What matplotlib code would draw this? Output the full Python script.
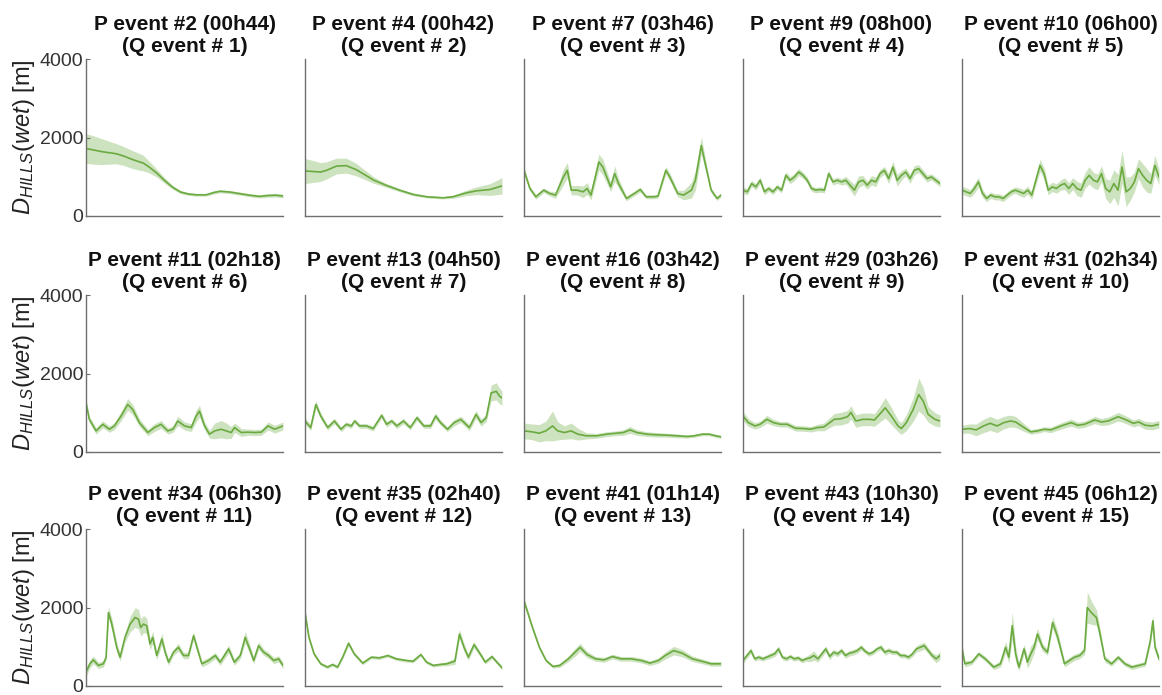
import numpy as np
import matplotlib
matplotlib.use("Agg")
import matplotlib.pyplot as plt

plt.rcParams['font.family'] = ['Liberation Sans', 'DejaVu Sans']
plt.rcParams['mathtext.fontset'] = 'custom'
plt.rcParams['mathtext.rm'] = 'Liberation Sans'
plt.rcParams['mathtext.it'] = 'Liberation Sans:italic'
plt.rcParams['mathtext.bf'] = 'Liberation Sans:bold'

# Event identifiers
p_events = [2, 4, 7, 9, 10, 11, 13, 16, 29, 31, 34, 35, 41, 43, 45]
durations = ["00h44", "00h42", "03h46", "08h00", "06h00",
             "02h18", "04h50", "03h42", "03h26", "02h34",
             "06h30", "02h40", "01h14", "10h30", "06h12"]
q_events = list(range(1, 16))

# Mean distance (m) and spread per event; t = fraction of event duration
t_p2 = [0, .04, .08, .12, .15, .19, .23, .27, .29, .32, .36, .40, .44, .48, .52, .56, .61, .65, .68, .73,
        .78, .83, .88, .92, .96, 1.0]
d_p2 = [1720, 1680, 1640, 1610, 1590, 1530, 1450, 1380, 1350, 1250, 1090, 900, 730, 610, 560, 540, 540, 600, 630, 610,
        570, 530, 500, 520, 530, 510]
s_p2 = [380, 360, 330, 290, 260, 240, 230, 215, 200, 150, 100, 70, 50, 40, 35, 35, 35, 40, 40, 40,
        40, 40, 40, 45, 45, 45]

t_p4 = [0, .08, .11, .16, .21, .26, .35, .41, .48, .55, .62, .70, .75, .82, .87, .94, 1.0]
d_p4 = [1147, 1121, 1164, 1273, 1282, 1181, 911, 785, 658, 548, 489, 464, 489, 590, 641, 675, 767]
s_p4 = [320, 240, 220, 200, 190, 160, 80, 50, 40, 35, 30, 30, 40, 70, 100, 150, 210]

t_p7 = [0, .03, .06, .10, .13, .16, .20, .22, .24, .27, .30, .32, .34, .38, .40, .44, .46, .48, .52, .56,
        .59, .62, .66, .68, .72, .74, .78, .81, .85, .87, .90, .92, .95, .98, 1.0]
d_p7 = [1164, 700, 489, 658, 574, 532, 995, 1164, 658, 658, 616, 700, 532, 1375, 1248, 742, 1080, 827, 447, 574,
        675, 489, 489, 506, 1164, 995, 574, 532, 658, 911, 1796, 1332, 658, 447, 532]
s_p7 = [80, 60, 60, 60, 60, 80, 200, 200, 120, 120, 150, 150, 120, 200, 200, 120, 200, 120, 60, 60,
        60, 50, 50, 50, 100, 100, 80, 120, 200, 250, 220, 150, 60, 50, 50]

d_p9 = [658, 616, 827, 742, 911, 616, 700, 616, 742, 658, 1037, 911, 995, 1122, 1037, 911, 700, 658, 675, 658,
        1080, 869, 911, 869, 911, 784, 658, 869, 911, 784, 911, 869, 1080, 1164, 953, 1248, 911, 1037, 1122, 953,
        1164, 1206, 1080, 953, 995, 911, 827]
s_p9 = [80, 80, 80, 80, 80, 80, 70, 70, 70, 70, 90, 90, 90, 90, 80, 80, 70, 70, 70, 70,
        80, 80, 80, 80, 100, 120, 150, 150, 120, 100, 120, 120, 100, 100, 130, 150, 150, 120, 100, 120,
        120, 100, 100, 90, 80, 80, 80]
t_p9 = np.linspace(0, 1, len(d_p9))

d_p10 = [658, 616, 574, 700, 869, 574, 447, 532, 489, 489, 447, 532, 616, 658, 616, 574, 658, 532, 911, 1290,
         1080, 658, 742, 700, 784, 827, 700, 827, 700, 658, 911, 1037, 911, 869, 1080, 700, 616, 827, 658, 1248,
         616, 700, 869, 1206, 1037, 911, 827, 1290, 995]
s_p10 = [100, 100, 100, 120, 120, 100, 80, 80, 80, 80, 80, 80, 80, 80, 100, 100, 100, 100, 120, 150,
         150, 120, 120, 120, 130, 150, 150, 150, 180, 180, 200, 220, 200, 200, 200, 250, 300, 350, 400, 420,
         380, 300, 250, 250, 300, 300, 250, 250, 200]
t_p10 = np.linspace(0, 1, len(d_p10))

t_p11 = [0, .017, .051, .085, .119, .144, .178, .212, .237, .271, .314, .347, .381, .415, .441, .466, .500, .534,
         .559, .576, .602, .627, .653, .686, .712, .737, .754, .788, .822, .856, .890, .924, .958, 1.0]
d_p11 = [1252, 832, 537, 705, 580, 664, 915, 1210, 1084, 748, 496, 622, 705, 537, 580, 790, 664, 622,
         915, 1041, 664, 454, 537, 580, 537, 496, 622, 496, 505, 496, 505, 664, 580, 664]
s_p11 = [100, 80, 80, 90, 80, 90, 120, 150, 130, 100, 80, 100, 100, 80, 80, 120, 100, 100,
         150, 150, 100, 100, 200, 220, 200, 150, 120, 100, 80, 80, 80, 100, 100, 100]

t_p13 = [0, .029, .055, .080, .115, .149, .183, .209, .235, .252, .277, .312, .346, .389, .414, .440, .466, .500,
         .534, .568, .603, .637, .663, .688, .723, .757, .791, .834, .868, .894, .920, .945, .971, .988, 1.0]
d_p13 = [790, 622, 1210, 916, 622, 790, 580, 706, 664, 790, 664, 664, 597, 933, 706, 790, 664, 790,
         622, 874, 664, 664, 916, 748, 580, 748, 832, 622, 958, 748, 874, 1504, 1546, 1420, 1378]
s_p13 = [80, 80, 100, 80, 60, 70, 60, 60, 60, 60, 60, 60, 60, 70, 70, 60, 70, 70,
         60, 70, 60, 60, 80, 70, 60, 80, 80, 80, 100, 90, 100, 200, 220, 200, 180]

t_p16 = [0, .043, .077, .111, .145, .171, .205, .239, .274, .316, .368, .419, .470, .504, .538, .573, .624,
         .675, .726, .778, .829, .863, .906, .940, .974, 1.0]
d_p16 = [538, 512, 479, 538, 664, 538, 496, 538, 454, 412, 412, 454, 479, 496, 563, 496, 454,
         437, 428, 412, 395, 412, 454, 454, 412, 386]
s_p16 = [200, 200, 220, 250, 380, 230, 170, 200, 150, 80, 60, 60, 60, 70, 90, 70, 60,
         60, 50, 50, 40, 40, 40, 40, 40, 40]

t_p29 = [0, .027, .061, .087, .121, .155, .189, .224, .266, .309, .343, .377, .411, .463, .497, .531, .548,
         .573, .608, .642, .667, .693, .722, .753, .787, .804, .829, .864, .892, .915, .940, .974, 1.0]
d_p29 = [916, 748, 664, 706, 832, 748, 706, 706, 605, 597, 580, 622, 639, 832, 848, 899, 1008,
         790, 832, 832, 815, 958, 1126, 916, 664, 597, 748, 1084, 1462, 1294, 958, 832, 790]
s_p29 = [120, 100, 80, 80, 100, 80, 70, 70, 70, 70, 70, 80, 100, 150, 160, 160, 170,
         160, 160, 160, 160, 200, 260, 220, 150, 150, 200, 300, 420, 350, 200, 170, 150]

t_p31 = [0, .038, .072, .109, .143, .178, .212, .246, .272, .315, .349, .383, .417, .451, .503, .554, .588,
         .622, .674, .708, .742, .793, .827, .870, .896, .930, .964, 1.0]
d_p31 = [580, 597, 563, 664, 731, 664, 748, 790, 765, 622, 513, 538, 580, 563, 664, 748, 681,
         706, 815, 765, 790, 899, 832, 731, 765, 681, 664, 706]
s_p31 = [100, 120, 150, 170, 180, 170, 160, 150, 140, 100, 60, 60, 60, 70, 80, 90, 80,
         80, 90, 90, 100, 110, 100, 90, 90, 100, 100, 100]

t_p34 = [0, .020, .037, .063, .088, .102, .114, .131, .156, .173, .198, .224, .249, .266, .278, .292, .308,
         .325, .339, .359, .385, .402, .419, .444, .469, .495, .520, .546, .563, .588, .622, .656, .681,
         .724, .753, .783, .808, .834, .851, .876, .902, .927, .953, .978, 1.0]
d_p34 = [354, 565, 666, 523, 565, 733, 1872, 1577, 986, 733, 1239, 1577, 1746, 1704, 1492, 1577, 1535,
         1071, 1239, 776, 1197, 860, 607, 860, 986, 776, 776, 1281, 986, 565, 649, 776, 607,
         944, 607, 776, 1239, 902, 649, 1028, 860, 776, 649, 692, 523]
s_p34 = [120, 100, 100, 80, 80, 80, 150, 150, 120, 100, 120, 200, 250, 250, 220, 220, 200,
         150, 150, 100, 150, 100, 80, 80, 100, 80, 80, 100, 100, 80, 80, 80, 80,
         100, 80, 80, 150, 120, 80, 100, 80, 80, 80, 80, 80]

t_p35 = [0, .020, .046, .080, .114, .140, .165, .191, .221, .250, .293, .336, .378, .421, .463, .515,
         .549, .588, .617, .651, .685, .719, .761, .784, .807, .829, .858, .889, .915, .949, .974, 1.0]
d_p35 = [1872, 1239, 818, 565, 481, 548, 481, 733, 1088, 818, 582, 733, 717, 776, 692, 649,
         632, 801, 607, 523, 548, 565, 632, 1324, 986, 733, 1054, 818, 607, 750, 607, 464]
s_p35 = [100, 60, 50, 40, 40, 40, 40, 50, 60, 50, 40, 40, 40, 40, 40, 40,
         40, 40, 40, 40, 40, 50, 80, 120, 100, 80, 80, 60, 50, 50, 50, 50]

t_p41 = [0, .043, .078, .112, .147, .181, .225, .259, .285, .320, .363, .406, .449, .492, .544, .596,
         .639, .682, .717, .760, .803, .855, .907, .950, 1.0]
d_p41 = [2168, 1492, 986, 649, 497, 523, 692, 860, 986, 801, 692, 666, 750, 692, 692, 649,
         582, 649, 776, 902, 835, 692, 624, 565, 565]
s_p41 = [80, 60, 50, 40, 40, 50, 70, 100, 100, 80, 60, 60, 60, 60, 60, 60,
         60, 70, 90, 110, 90, 70, 60, 60, 60]

d_p43 = [650, 776, 903, 692, 734, 692, 734, 776, 818, 944, 734, 692, 751, 692, 717, 650, 692, 717, 776, 692,
         818, 944, 751, 860, 818, 903, 776, 835, 860, 903, 987, 886, 818, 860, 944, 987, 860, 903, 860, 860,
         776, 776, 734, 818, 944, 987, 1029, 903, 776, 692, 776]
s_p43 = [80, 70, 70, 60, 60, 60, 60, 70, 70, 80, 60, 60, 60, 60, 60, 60, 60, 100, 120, 80,
         80, 80, 80, 70, 70, 70, 70, 70, 70, 70, 70, 60, 60, 60, 60, 70, 70, 70, 60, 60,
         60, 60, 60, 70, 80, 90, 90, 80, 80, 100, 100]
t_p43 = np.linspace(0, 1, len(d_p43))

t_p45 = [0, .015, .050, .085, .118, .161, .195, .221, .238, .255, .272, .289, .315, .332, .349, .366, .383,
         .409, .434, .460, .486, .520, .545, .571, .597, .622, .636, .656, .682, .699, .725, .759, .793,
         .827, .862, .896, .930, .956, .969, .98, 1.0]
d_p45 = [944, 565, 607, 818, 692, 481, 565, 986, 733, 1535, 818, 481, 944, 607, 818, 986, 1324,
         986, 860, 1619, 1239, 565, 649, 733, 776, 902, 1999, 1872, 1746, 1366, 692, 565, 733,
         565, 481, 523, 565, 1155, 1661, 986, 692]
s_p45 = [120, 80, 60, 60, 60, 60, 80, 150, 150, 350, 200, 100, 120, 150, 200, 150, 150,
         100, 80, 150, 150, 80, 80, 80, 80, 100, 400, 300, 200, 150, 80, 60, 60,
         60, 60, 60, 60, 100, 150, 100, 80]

series = [
    (t_p2, d_p2, s_p2), (t_p4, d_p4, s_p4), (t_p7, d_p7, s_p7), (t_p9, d_p9, s_p9), (t_p10, d_p10, s_p10),
    (t_p11, d_p11, s_p11), (t_p13, d_p13, s_p13), (t_p16, d_p16, s_p16), (t_p29, d_p29, s_p29), (t_p31, d_p31, s_p31),
    (t_p34, d_p34, s_p34), (t_p35, d_p35, s_p35), (t_p41, d_p41, s_p41), (t_p43, d_p43, s_p43), (t_p45, d_p45, s_p45),
]

y_ticks = [0, 2000, 4000]
y_max = 4000

LINE = '#6AAA3F'
FILL = '#70AD47'
AXIS = '#6e6e6e'

W, H = 1162, 695
fig = plt.figure(figsize=(W / 100, H / 100), dpi=100)

col_left = [86, 305, 524, 743, 962]
row_bottom = [216, 452, 686]
ax_w, ax_h = 197, 157

for i, (t, d, s) in enumerate(series):
    r, c = divmod(i, 5)
    ax = fig.add_axes([col_left[c] / W, 1 - row_bottom[r] / H, ax_w / W, ax_h / H])
    t = np.asarray(t, dtype=float)
    d = np.asarray(d, dtype=float)
    s = np.asarray(s, dtype=float)
    ax.fill_between(t, d - s, d + s, color=FILL, alpha=0.35, lw=0)
    ax.plot(t, d, color=LINE, lw=1.2)
    ax.set_xlim(0, 1)
    ax.set_ylim(0, y_max)
    for side in ('top', 'right'):
        ax.spines[side].set_visible(False)
    for side in ('left', 'bottom'):
        ax.spines[side].set_color(AXIS)
        ax.spines[side].set_linewidth(1.0)
    ax.set_xticks([])
    ax.set_yticks(y_ticks)
    if c == 0:
        ax.tick_params(axis='y', direction='in', length=3, color=AXIS,
                       labelsize=14, labelcolor='#333333', pad=2)
        ax.set_ylabel(r'$D_{HILLS}(wet)$ [m]', fontsize=17, color='#222222', labelpad=2)
    else:
        ax.tick_params(axis='y', length=0, labelleft=False)
    ax.set_title(f"P event #{p_events[i]} ({durations[i]})\n(Q event # {q_events[i]})",
                 fontsize=15, fontweight='bold', color='#111111', linespacing=1.2, pad=5)

fig.savefig('out.png', dpi=100)
